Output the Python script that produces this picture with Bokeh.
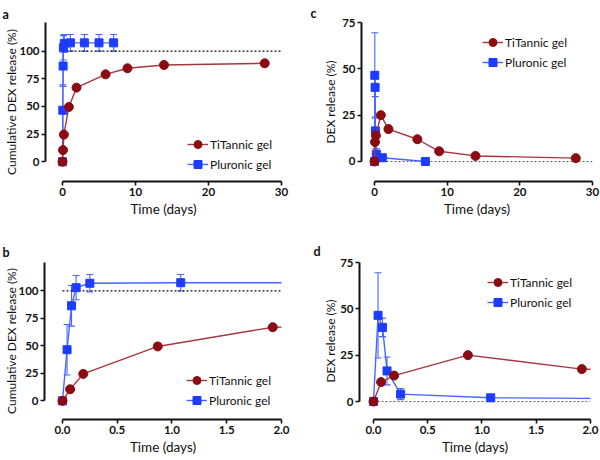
from bokeh.plotting import figure
from bokeh.models import (Range1d, FixedTicker, NumeralTickFormatter, Legend, LegendItem,
                          Whisker, TeeHead, ColumnDataSource, Title)
from bokeh.layouts import column, row
from bokeh.embed import file_html
from bokeh.resources import INLINE

# ---------------- data ----------------
TI_TIME = [0, 0.07, 0.19, 0.87, 1.92, 5.9, 8.9, 13.9, 27.7]
TI_CUM = [0, 10.5, 24.5, 49.5, 67.0, 79.0, 84.5, 87.5, 89.0]
TI_REL = [0, 10.5, 14.0, 25.0, 17.5, 12.0, 5.5, 3.0, 1.8]

PL_TIME = [0, 0.042, 0.083, 0.125, 0.25, 1.08, 3.0, 5.0, 7.0]
PL_CUM = [0, 46.5, 86.5, 103.0, 107.0, 107.5, 107.5, 107.5, 107.5]
PL_CUM_ERR = [0, 23.0, 18.5, 11.0, 8.0, 7.5, 7.5, 7.5, 7.5]

PL_REL_TIME = [0, 0.042, 0.083, 0.125, 0.25, 1.08, 7.0]
PL_REL = [0, 46.5, 40.0, 16.5, 4.0, 2.0, 0.0]
PL_REL_ERR = [0, 23.0, 5.0, 7.5, 3.0, 1.0, 0.0]

CUM_REF = 100      # complete release level
REL_REF = 0        # baseline level

X_TICKS_LONG = [0, 10, 20, 30]
X_TICKS_SHORT = [0, 0.5, 1.0, 1.5, 2.0]
Y_TICKS_CUM = [0, 25, 50, 75, 100]
Y_TICKS_REL = [0, 25, 50, 75]

LABEL_TI = "TiTannic gel"
LABEL_PL = "Pluronic gel"
X_TITLE = "Time (days)"
Y_TITLE_CUM = "Cumulative DEX release (%)"
Y_TITLE_REL = "DEX release (%)"

FONT = "Lato"
RED_FILL = "#8a0c12"
RED_LINE = "#a9363d"
BLUE_FILL = "#1c3cff"
BLUE_LINE = "#4866ff"


def make_panel(letter, borders, xr, yr, xticks, yticks, xfmt, ylabel,
               tx, ty, px, py, perr, ref_y, ref_color, xmax, ymax,
               legend_xy, letter_pos, ytitle_pos, xtitle_off):
    left, right, top, bottom = borders
    p = figure(width=300, height=230, x_range=Range1d(*xr), y_range=Range1d(*yr),
               output_backend="svg", toolbar_location=None,
               min_border_left=left, min_border_right=right,
               min_border_top=top, min_border_bottom=bottom)
    p.outline_line_color = None
    p.xgrid.grid_line_color = None
    p.ygrid.grid_line_color = None

    for ax in (p.xaxis[0], p.yaxis[0]):
        ax.axis_line_width = 2
        ax.axis_line_color = "#111111"
        ax.major_tick_line_width = 1.6
        ax.major_tick_line_color = "#111111"
        ax.major_tick_out = 4
        ax.major_tick_in = 0
        ax.minor_tick_line_color = None
        ax.major_label_text_font = FONT
        ax.major_label_text_font_style = "bold"
        ax.major_label_text_font_size = "11.5px"
        ax.major_label_text_color = "#111111"
        ax.major_label_standoff = 2

    p.xaxis[0].ticker = FixedTicker(ticks=xticks)
    p.yaxis[0].ticker = FixedTicker(ticks=yticks)
    p.xaxis[0].bounds = (0, xmax)
    p.yaxis[0].bounds = (0, ymax)
    if xfmt:
        p.xaxis[0].formatter = NumeralTickFormatter(format=xfmt)

    # axis titles as side titles (centred on the axis, like Prism)
    yoff, ystand = ytitle_pos
    p.add_layout(Title(text=ylabel, align="center", offset=yoff, standoff=ystand,
                       text_font=FONT, text_font_style="normal", text_font_size="12px",
                       text_color="#111111"), "left")
    p.add_layout(Title(text=X_TITLE, align="center", offset=xtitle_off, standoff=0,
                       text_font=FONT, text_font_style="normal", text_font_size="13.5px",
                       text_color="#111111"), "below")

    # reference dashed level
    p.line(x=[0, xmax], y=[ref_y, ref_y], line_color=ref_color,
           line_dash="2 2", line_width=1.2)

    # Pluronic with error bars
    lo = [v - e for v, e in zip(py, perr)]
    hi = [v + e for v, e in zip(py, perr)]
    src = ColumnDataSource(dict(x=px, y=py, lo=lo, hi=hi))
    p.add_layout(Whisker(base="x", lower="lo", upper="hi", source=src,
                         dimension="height", line_color=BLUE_LINE, line_width=1.1,
                         upper_head=TeeHead(size=7, line_color=BLUE_LINE, line_width=1.1),
                         lower_head=TeeHead(size=7, line_color=BLUE_LINE, line_width=1.1)))
    pl_line = p.line("x", "y", source=src, line_color=BLUE_LINE, line_width=1.4)
    pl_mark = p.scatter("x", "y", source=src, marker="square", size=8,
                        fill_color=BLUE_FILL, line_color=BLUE_FILL)

    # TiTannic
    tsrc = ColumnDataSource(dict(x=tx, y=ty))
    ti_line = p.line("x", "y", source=tsrc, line_color=RED_LINE, line_width=1.4)
    ti_mark = p.scatter("x", "y", source=tsrc, marker="circle", size=9,
                        fill_color=RED_FILL, line_color=RED_FILL)

    legend = Legend(items=[LegendItem(label=LABEL_TI, renderers=[ti_line, ti_mark]),
                           LegendItem(label=LABEL_PL, renderers=[pl_line, pl_mark])],
                    location=legend_xy, padding=0, margin=0, spacing=0,
                    glyph_height=20, glyph_width=21, label_height=20, label_standoff=2,
                    border_line_color=None, background_fill_alpha=0,
                    label_text_font=FONT, label_text_font_size="12px",
                    label_text_color="#111111")
    p.add_layout(legend, "center")

    off, stand = letter_pos
    p.add_layout(Title(text=letter, align="left", offset=off, standoff=stand,
                       text_font=FONT, text_font_style="bold", text_font_size="12.5px",
                       text_color="#111111"), "above")
    return p


pa = make_panel("a", (45, 19, 20, 49), (-2.33, 30), (-17.9, 125.9),
                X_TICKS_LONG, Y_TICKS_CUM, None, Y_TITLE_CUM,
                TI_TIME, TI_CUM, PL_TIME, PL_CUM, PL_CUM_ERR,
                CUM_REF, "#111111", 30, 125.9, (142, 7), (-43, 1), (13, -5), 8.5)
pb = make_panel("b", (44, 19, 29, 41), (-0.164, 2.0), (-17.0, 125.9),
                X_TICKS_SHORT, Y_TICKS_CUM, "0.0", Y_TITLE_CUM,
                TI_TIME, TI_CUM, PL_TIME, PL_CUM, PL_CUM_ERR,
                CUM_REF, "#111111", 2.0, 125.9, (142, 9), (-42, 5), (10, -6), 9)
pc = make_panel("c", (61, 8, 22, 49), (-1.79, 30), (-10.8, 75),
                X_TICKS_LONG, Y_TICKS_REL, None, Y_TITLE_REL,
                TI_TIME, TI_REL, PL_REL_TIME, PL_REL, PL_REL_ERR,
                REL_REF, "#666666", 30, 75, (121, 109), (-51, 3), (10, 4), 6.5)
pd = make_panel("d", (59, 10, 32, 41), (-0.129, 2.0), (-9.7, 75),
                X_TICKS_SHORT, Y_TICKS_REL, "0.0", Y_TITLE_REL,
                TI_TIME, TI_REL, PL_REL_TIME, PL_REL, PL_REL_ERR,
                REL_REF, "#666666", 2.0, 75, (128, 107), (-46, 8), (9, 0), 7)

layout = column(row(pa, pc), row(pb, pd))
open("out.html", "w").write(file_html(layout, INLINE))
